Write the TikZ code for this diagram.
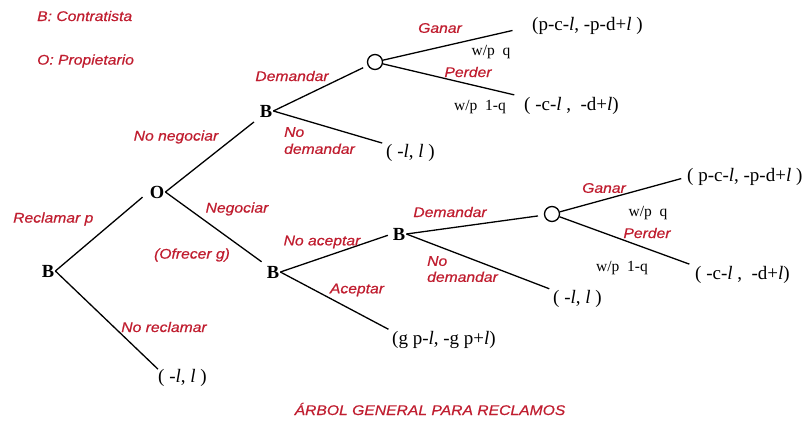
\documentclass[tikz,border=0pt]{standalone}
\usepackage{fontspec}
\setmainfont{Liberation Serif}
\newfontfamily\labfont[FakeStretch=1.12,FakeBold=0.6]{Liberation Sans}
\definecolor{lred}{RGB}{192,30,48}
\begin{document}
\begin{tikzpicture}[x=1pt,y=-1pt,
  lab/.style={text=lred, font=\labfont\itshape\fontsize{14}{16}\selectfont, inner sep=0pt},
  pl/.style={font=\bfseries\fontsize{18.5}{19}\selectfont, inner sep=1pt},
  pay/.style={font=\fontsize{19}{20}\selectfont, inner sep=0pt, anchor=west},
  wp/.style={font=\fontsize{15.5}{16}\selectfont, inner sep=0pt},
  chance/.style={circle, draw, line width=1.3pt, minimum size=15pt, inner sep=0pt},
  br/.style={line width=1.3pt}]
\useasboundingbox (0,0) rectangle (807,421);
% legend
\node[lab, anchor=west] (legB) at (37,16) {B: Contratista};
\node[lab, anchor=west] (legO) at (37,61) {O: Propietario};
% decision and chance nodes
\node[pl] (b0) at (48,271) {B};
\node[pl] (o) at (157,192) {O};
\node[pl] (b1) at (266,111) {B};
\node[pl] (b2) at (273,272) {B};
\node[pl] (b3) at (399,234) {B};
\node[chance] (c1) at (375,62) {};
\node[chance] (c2) at (552,214) {};
% payoffs
\node[pay] (pbot) at (158,378) {( -\textit{l}, \textit{l} )};
\node[pay] (pnd1) at (386,153) {( -\textit{l}, \textit{l} )};
\node[pay] (pg1) at (532,26) {(p-c-\textit{l}, -p-d+\textit{l} )};
\node[pay] (pp1) at (524,106) {( -c-\textit{l} ,\enspace -d+\textit{l})};
\node[pay] (pacc) at (392,340) {(g p-\textit{l}, -g p+\textit{l})};
\node[pay] (pnd2) at (553,299) {( -\textit{l}, \textit{l} )};
\node[pay] (pg2) at (687,177) {( p-c-\textit{l}, -p-d+\textit{l} )};
\node[pay] (pp2) at (695,275) {( -c-\textit{l} ,\enspace -d+\textit{l})};
% branches
\draw[br, shorten >=8pt] (b0.east) -- (o.west);
\draw[br] (b0.east) -- (pbot.north west);
\draw[br, shorten >=6pt] (o.east) -- (b1.south west);
\draw[br, shorten >=5pt] (o.east) -- (b2.north west);
\draw[br, shorten >=5pt] (b1.east) -- (c1);
\draw[br, shorten >=4pt] (b1.east) -- (pnd1.north west);
\draw[br, shorten >=20pt] (c1) -- (pg1.west);
\draw[br, shorten >=10pt] (c1) -- (pp1.north west);
\draw[br, shorten >=4pt] (b2.east) -- (b3.west);
\draw[br, shorten >=4pt] (b2.east) -- (pacc.north west);
\draw[br, shorten >=6pt] (b3.east) -- (c2);
\draw[br, shorten >=4pt] (b3.east) -- (pnd2.north west);
\draw[br, shorten >=6pt] (c2) -- (pg2.west);
\draw[br, shorten >=6pt] (c2) -- (pp2.north west);
% branch labels
\node[lab, anchor=west] (lrec) at (13,219) {Reclamar p};
\node[lab] (lnoreg) at (164,327) {No reclamar};
\node[lab] (lnoneg) at (176,137) {No negociar};
\node[lab] (lneg) at (237,209) {Negociar};
\node[lab] (lofr) at (192,255) {(Ofrecer g)};
\node[lab] (ldem1) at (292,76) {Demandar};
\node[lab, anchor=north west, align=left, font=\labfont\itshape\fontsize{14}{17}\selectfont] (lnd1) at (284,127) {No\\demandar};
\node[lab] (lgan1) at (440,28) {Ganar};
\node[lab] (lper1) at (468,72) {Perder};
\node[wp] (wq1) at (491,52) {w/p\enspace q};
\node[wp] (wnq1) at (480,107) {w/p\enspace 1-q};
\node[lab] (lnoac) at (322,242) {No aceptar};
\node[lab] (lac) at (357,290) {Aceptar};
\node[lab] (ldem2) at (450,212) {Demandar};
\node[lab, anchor=north west, align=left] (lnd2) at (427,256) {No\\demandar};
\node[lab] (lgan2) at (604,188) {Ganar};
\node[lab] (lper2) at (647,233) {Perder};
\node[wp] (wq2) at (648,213) {w/p\enspace q};
\node[wp] (wnq2) at (622,268) {w/p\enspace 1-q};
% title
\node[lab] (title) at (430,409) {ÁRBOL GENERAL PARA RECLAMOS};
\end{tikzpicture}
\end{document}
